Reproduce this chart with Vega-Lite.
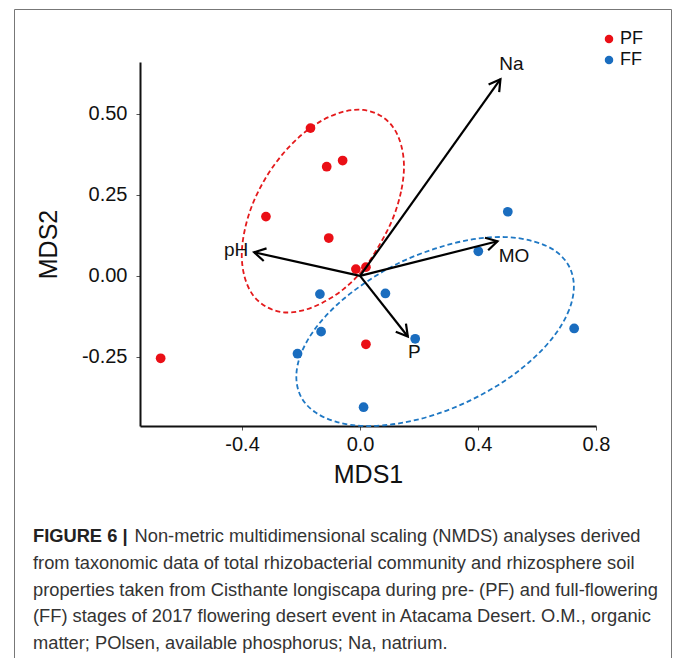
{
  "$schema": "https://vega.github.io/schema/vega-lite/v6.json",
  "width": 657,
  "height": 649,
  "autosize": "none",
  "padding": {"left": 14, "top": 9, "right": 3, "bottom": 0},
  "background": "white",
  "config": {
    "view": {"stroke": "#777777", "strokeWidth": 1},
    "axis": {
      "grid": false,
      "domainColor": "#111111",
      "domainWidth": 2,
      "tickColor": "#555555",
      "tickWidth": 1,
      "tickSize": 4,
      "labelFont": "Liberation Sans",
      "labelFontSize": 20,
      "labelColor": "#111111",
      "labelFlush": false,
      "labelOverlap": false,
      "titleFont": "Liberation Sans",
      "titleFontSize": 25,
      "titleFontWeight": "normal",
      "titleColor": "#111111"
    },
    "axisX": {"offset": -232, "labelPadding": 4, "titlePadding": 8},
    "axisY": {"offset": -126, "labelPadding": 9, "titlePadding": 20}
  },
  "title": {
    "text": "FIGURE 6 |",
    "subtitle": [
      "\u200b\u00a0\u00a0\u00a0\u00a0\u00a0\u00a0\u00a0\u00a0\u00a0\u00a0\u00a0\u00a0\u00a0\u00a0\u00a0\u00a0\u00a0\u00a0\u00a0\u00a0Non-metric multidimensional scaling (NMDS) analyses derived",
      "from taxonomic data of total rhizobacterial community and rhizosphere soil",
      "properties taken from Cisthante longiscapa during pre- (PF) and full-flowering",
      "(FF) stages of 2017 flowering desert event in Atacama Desert. O.M., organic",
      "matter; POlsen, available phosphorus; Na, natrium."
    ],
    "orient": "bottom",
    "anchor": "start",
    "frame": "group",
    "offset": -130,
    "dx": 19,
    "font": "Liberation Sans",
    "fontSize": 18.3,
    "fontWeight": "bold",
    "color": "#222222",
    "lineHeight": 18.3,
    "subtitleFont": "Liberation Sans",
    "subtitleFontSize": 18.3,
    "subtitleFontWeight": "normal",
    "subtitleColor": "#333333",
    "subtitleLineHeight": 26.8,
    "subtitlePadding": -18.3
  },
  "datasets": {
    "samples": [
      {"group": "PF", "MDS1": -0.168, "MDS2": 0.456},
      {"group": "PF", "MDS1": -0.113, "MDS2": 0.337},
      {"group": "PF", "MDS1": -0.059, "MDS2": 0.356},
      {"group": "PF", "MDS1": -0.319, "MDS2": 0.183},
      {"group": "PF", "MDS1": -0.106, "MDS2": 0.117},
      {"group": "PF", "MDS1": -0.014, "MDS2": 0.021},
      {"group": "PF", "MDS1": 0.020, "MDS2": 0.027},
      {"group": "PF", "MDS1": 0.020, "MDS2": -0.211},
      {"group": "PF", "MDS1": -0.676, "MDS2": -0.254},
      {"group": "FF", "MDS1": 0.501, "MDS2": 0.198},
      {"group": "FF", "MDS1": 0.401, "MDS2": 0.076},
      {"group": "FF", "MDS1": -0.136, "MDS2": -0.056},
      {"group": "FF", "MDS1": 0.086, "MDS2": -0.054},
      {"group": "FF", "MDS1": -0.132, "MDS2": -0.172},
      {"group": "FF", "MDS1": 0.187, "MDS2": -0.194},
      {"group": "FF", "MDS1": -0.212, "MDS2": -0.240},
      {"group": "FF", "MDS1": 0.726, "MDS2": -0.162},
      {"group": "FF", "MDS1": 0.012, "MDS2": -0.405}
    ],
    "ellipses": [
      {"stage": "PF", "k": 0, "MDS1": 0.149, "MDS2": 0.337},
      {"stage": "PF", "k": 1, "MDS1": 0.139, "MDS2": 0.260},
      {"stage": "PF", "k": 2, "MDS1": 0.112, "MDS2": 0.179},
      {"stage": "PF", "k": 3, "MDS1": 0.068, "MDS2": 0.099},
      {"stage": "PF", "k": 4, "MDS1": 0.011, "MDS2": 0.020},
      {"stage": "PF", "k": 5, "MDS1": -0.055, "MDS2": -0.040},
      {"stage": "PF", "k": 6, "MDS1": -0.126, "MDS2": -0.082},
      {"stage": "PF", "k": 7, "MDS1": -0.197, "MDS2": -0.107},
      {"stage": "PF", "k": 8, "MDS1": -0.263, "MDS2": -0.112},
      {"stage": "PF", "k": 9, "MDS1": -0.320, "MDS2": -0.094},
      {"stage": "PF", "k": 10, "MDS1": -0.364, "MDS2": -0.058},
      {"stage": "PF", "k": 11, "MDS1": -0.391, "MDS2": -0.004},
      {"stage": "PF", "k": 12, "MDS1": -0.401, "MDS2": 0.064},
      {"stage": "PF", "k": 13, "MDS1": -0.391, "MDS2": 0.141},
      {"stage": "PF", "k": 14, "MDS1": -0.364, "MDS2": 0.222},
      {"stage": "PF", "k": 15, "MDS1": -0.320, "MDS2": 0.302},
      {"stage": "PF", "k": 16, "MDS1": -0.263, "MDS2": 0.375},
      {"stage": "PF", "k": 17, "MDS1": -0.197, "MDS2": 0.436},
      {"stage": "PF", "k": 18, "MDS1": -0.126, "MDS2": 0.481},
      {"stage": "PF", "k": 19, "MDS1": -0.055, "MDS2": 0.507},
      {"stage": "PF", "k": 20, "MDS1": 0.011, "MDS2": 0.512},
      {"stage": "PF", "k": 21, "MDS1": 0.068, "MDS2": 0.495},
      {"stage": "PF", "k": 22, "MDS1": 0.112, "MDS2": 0.459},
      {"stage": "PF", "k": 23, "MDS1": 0.139, "MDS2": 0.405},
      {"stage": "FF", "k": 0, "MDS1": 0.725, "MDS2": -0.033},
      {"stage": "FF", "k": 1, "MDS1": 0.709, "MDS2": -0.104},
      {"stage": "FF", "k": 2, "MDS1": 0.662, "MDS2": -0.180},
      {"stage": "FF", "k": 3, "MDS1": 0.587, "MDS2": -0.255},
      {"stage": "FF", "k": 4, "MDS1": 0.490, "MDS2": -0.324},
      {"stage": "FF", "k": 5, "MDS1": 0.376, "MDS2": -0.383},
      {"stage": "FF", "k": 6, "MDS1": 0.254, "MDS2": -0.428},
      {"stage": "FF", "k": 7, "MDS1": 0.132, "MDS2": -0.455},
      {"stage": "FF", "k": 8, "MDS1": 0.019, "MDS2": -0.463},
      {"stage": "FF", "k": 9, "MDS1": -0.078, "MDS2": -0.451},
      {"stage": "FF", "k": 10, "MDS1": -0.153, "MDS2": -0.420},
      {"stage": "FF", "k": 11, "MDS1": -0.200, "MDS2": -0.373},
      {"stage": "FF", "k": 12, "MDS1": -0.216, "MDS2": -0.311},
      {"stage": "FF", "k": 13, "MDS1": -0.200, "MDS2": -0.240},
      {"stage": "FF", "k": 14, "MDS1": -0.153, "MDS2": -0.164},
      {"stage": "FF", "k": 15, "MDS1": -0.078, "MDS2": -0.089},
      {"stage": "FF", "k": 16, "MDS1": 0.019, "MDS2": -0.020},
      {"stage": "FF", "k": 17, "MDS1": 0.132, "MDS2": 0.040},
      {"stage": "FF", "k": 18, "MDS1": 0.254, "MDS2": 0.084},
      {"stage": "FF", "k": 19, "MDS1": 0.376, "MDS2": 0.112},
      {"stage": "FF", "k": 20, "MDS1": 0.490, "MDS2": 0.120},
      {"stage": "FF", "k": 21, "MDS1": 0.587, "MDS2": 0.107},
      {"stage": "FF", "k": 22, "MDS1": 0.662, "MDS2": 0.077},
      {"stage": "FF", "k": 23, "MDS1": 0.709, "MDS2": 0.029}
    ],
    "vectors": [
      {"variable": "Na", "MDS1": 0.476, "MDS2": 0.607, "labelX": 0.513, "labelY": 0.654},
      {"variable": "pH", "MDS1": -0.359, "MDS2": 0.073, "labelX": -0.42, "labelY": 0.080},
      {"variable": "MO", "MDS1": 0.466, "MDS2": 0.107, "labelX": 0.522, "labelY": 0.063},
      {"variable": "P", "MDS1": 0.162, "MDS2": -0.187, "labelX": 0.184, "labelY": -0.236}
    ]
  },
  "layer": [
    {
      "data": {"name": "ellipses"},
      "transform": [{"filter": "datum.stage === 'PF'"}],
      "mark": {"type": "line", "interpolate": "cardinal-closed", "strokeDash": [5, 3], "strokeWidth": 1.8, "color": "#e41a1c"},
      "encoding": {
        "x": {"field": "MDS1", "type": "quantitative", "title": "MDS1",
              "scale": {"domain": [-0.746, 0.8], "range": [126, 582], "nice": false, "zero": false},
              "axis": {"values": [-0.4, 0, 0.4, 0.8], "labelExpr": "replace(format(datum.value, '.1f'), '\u2212', '-')"}},
        "y": {"field": "MDS2", "type": "quantitative", "title": "MDS2",
              "scale": {"domain": [-0.463, 0.66], "range": [417, 53], "nice": false, "zero": false},
              "axis": {"values": [-0.25, 0, 0.25, 0.5], "labelExpr": "replace(format(datum.value, '.2f'), '\u2212', '-')"}},
        "order": {"field": "k", "type": "quantitative"}
      }
    },
    {
      "data": {"name": "ellipses"},
      "transform": [{"filter": "datum.stage === 'FF'"}],
      "mark": {"type": "line", "interpolate": "cardinal-closed", "strokeDash": [5, 3], "strokeWidth": 1.8, "color": "#1f78c4"},
      "encoding": {
        "x": {"field": "MDS1", "type": "quantitative", "title": "MDS1"},
        "y": {"field": "MDS2", "type": "quantitative", "title": "MDS2"},
        "order": {"field": "k", "type": "quantitative"}
      }
    },
    {
      "data": {"name": "samples"},
      "mark": {"type": "point", "filled": true, "opacity": 1, "size": 95},
      "encoding": {
        "x": {"field": "MDS1", "type": "quantitative", "title": "MDS1"},
        "y": {"field": "MDS2", "type": "quantitative", "title": "MDS2"},
        "color": {"field": "group", "type": "nominal",
                  "scale": {"domain": ["PF", "FF"], "range": ["#ea0f16", "#1a6dbf"]},
                  "legend": {"orient": "none", "legendX": 586, "legendY": 21, "title": null,
                             "labelFont": "Liberation Sans", "labelFontSize": 18, "labelColor": "#111111",
                             "symbolType": "circle", "symbolSize": 72,
                             "rowPadding": 3, "labelOffset": 2}}
      }
    },
    {
      "data": {"name": "vectors"},
      "mark": {"type": "rule", "color": "black", "strokeWidth": 2.2},
      "encoding": {
        "x": {"field": "MDS1", "type": "quantitative", "title": "MDS1"},
        "y": {"field": "MDS2", "type": "quantitative", "title": "MDS2"},
        "x2": {"datum": 0},
        "y2": {"datum": 0}
      }
    },
    {
      "data": {"name": "vectors"},
      "transform": [
        {"calculate": "atan2(datum.MDS1 * 295, datum.MDS2 * 324) * 180 / PI", "as": "heading"}
      ],
      "mark": {"type": "point", "shape": "M -0.5 0.866 L 0 0 L 0.5 0.866", "filled": false, "opacity": 1,
               "stroke": "black", "strokeWidth": 2.2, "size": 676, "strokeJoin": "miter"},
      "encoding": {
        "x": {"field": "MDS1", "type": "quantitative", "title": "MDS1"},
        "y": {"field": "MDS2", "type": "quantitative", "title": "MDS2"},
        "angle": {"field": "heading", "type": "quantitative", "scale": null}
      }
    },
    {
      "data": {"name": "vectors"},
      "mark": {"type": "text", "font": "Liberation Sans", "fontSize": 19, "color": "#111111", "align": "center", "baseline": "middle"},
      "encoding": {
        "x": {"field": "labelX", "type": "quantitative", "title": "MDS1"},
        "y": {"field": "labelY", "type": "quantitative", "title": "MDS2"},
        "text": {"field": "variable"}
      }
    }
  ]
}
